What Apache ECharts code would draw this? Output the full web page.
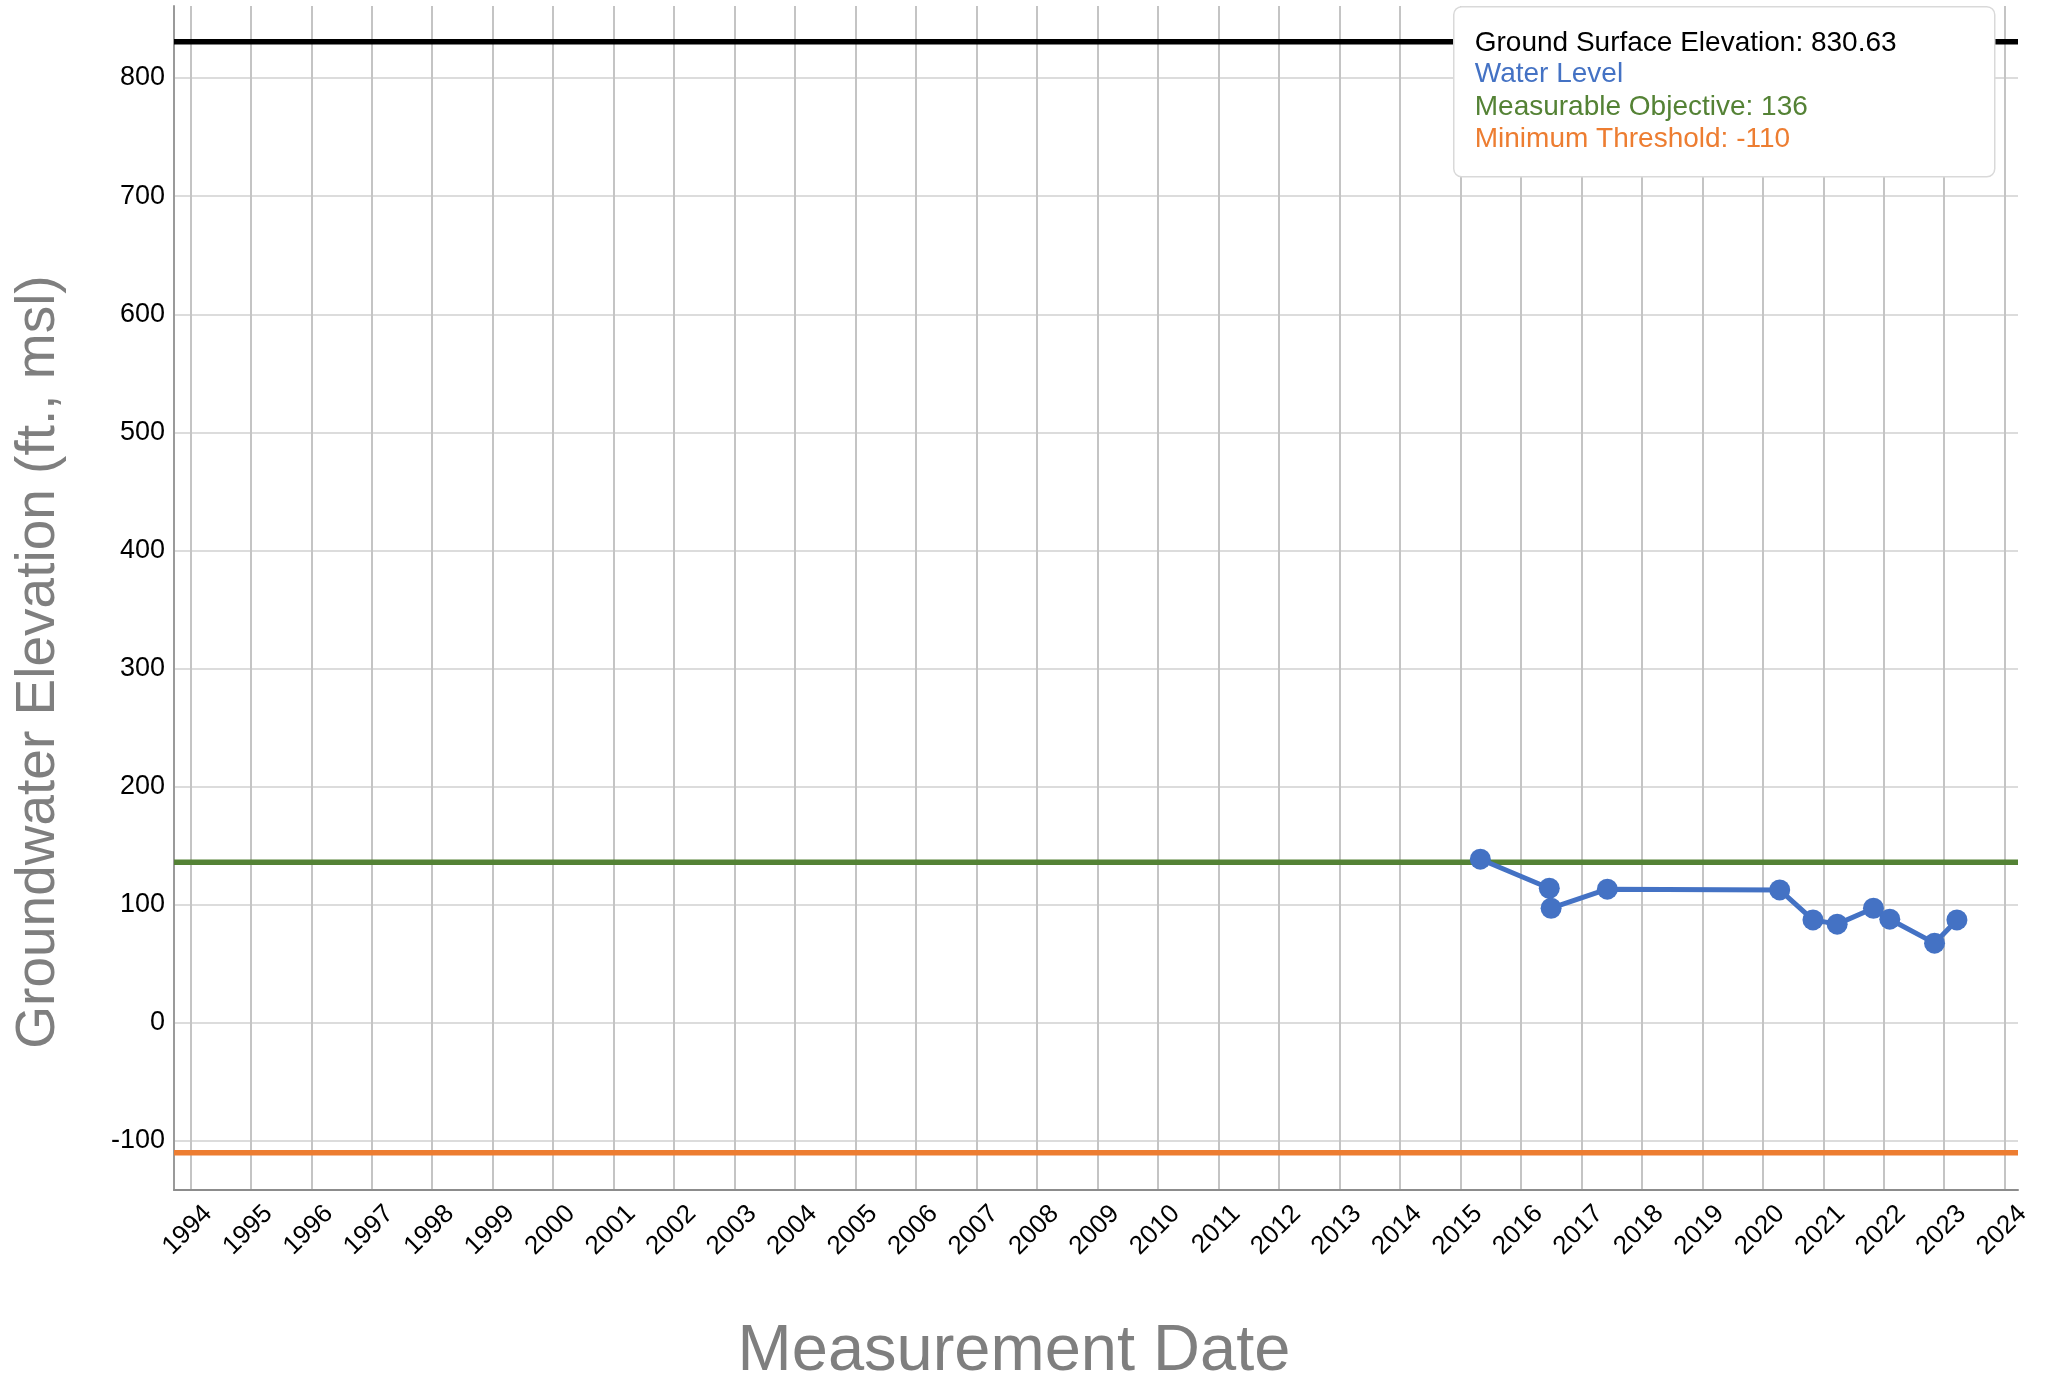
<!DOCTYPE html>
<html><head><meta charset="utf-8">
<script src="https://cdn.jsdelivr.net/npm/echarts@6/dist/echarts.min.js"></script>
<style>html,body{margin:0;padding:0;background:#fff}#c{width:2053px;height:1380px}</style>
</head><body><div id="c"></div>
<script>
// ---- data ----
const waterYears  = [2015.33, 2016.47, 2016.50, 2017.43, 2020.28, 2020.83, 2021.23, 2021.83, 2022.10, 2022.84, 2023.21];
const waterLevels = [138.6,   114.0,   97.1,    113.2,   112.6,   87.2,    83.6,    97.1,    87.8,    67.5,    87.2];
const groundSurfaceElevation = 830.63;
const measurableObjective = 136;
const minimumThreshold = -110;
const xRange = [1993.73, 2024.22];
const yRange = [-141.5, 861];
const xTitle = 'Measurement Date';
const yTitle = 'Groundwater Elevation (ft., msl)';
const legendLabels = [
  'Ground Surface Elevation: ' + groundSurfaceElevation,
  'Water Level',
  'Measurable Objective: ' + measurableObjective,
  'Minimum Threshold: ' + minimumThreshold
];
const COLORS = {ground:'#000000', water:'#4472C4', objective:'#548235', threshold:'#ED7D31'};
const FONT = '"Liberation Sans", Arial, sans-serif';

const chart = echarts.init(document.getElementById('c'), null, {renderer:'canvas'});

function hline(name, v, color){
  return {name, type:'line', data:[[xRange[0], v], [xRange[1], v]], symbol:'none',
    lineStyle:{color, width:5.5}, z:2, silent:true};
}

const legendColors = [COLORS.ground, COLORS.water, COLORS.objective, COLORS.threshold];
const legendRows = [36.7, 68, 100.7, 132.3];

const option = {
  animation:false,
  backgroundColor:'#fff',
  grid:{left:174, right:35, top:6, bottom:190, containLabel:false, outerBoundsMode:'none'},
  xAxis:{
    type:'value', min:xRange[0], max:xRange[1], splitNumber:30,
    axisLine:{show:true, onZero:false, lineStyle:{color:'#8c8c8c', width:2}},
    axisTick:{show:false},
    axisLabel:{rotate:45, fontSize:26, color:'#000', fontFamily:FONT, margin:2,
      verticalAlign:'top', padding:[12,0,0,0], showMinLabel:false, showMaxLabel:false,
      formatter: v => String(Math.round(v))},
    splitLine:{show:true, showMinLine:false, showMaxLine:false, lineStyle:{color:'#c4c4c4', width:2}},
    name:xTitle, nameLocation:'middle', nameGap:130, nameMoveOverlap:false,
    nameTextStyle:{fontSize:65, color:'#7f7f7f', fontFamily:FONT, padding:[0,164,0,0]}
  },
  yAxis:{
    type:'value', min:yRange[0], max:yRange[1], splitNumber:10,
    axisLine:{show:true, onZero:false, lineStyle:{color:'#9a9a9a', width:2}},
    axisTick:{show:false},
    axisLabel:{fontSize:27, color:'#000', fontFamily:FONT, margin:9, showMinLabel:false, showMaxLabel:false},
    splitLine:{show:true, showMinLine:false, showMaxLine:false, lineStyle:{color:'#dcdcdc', width:2}},
    name:yTitle, nameLocation:'middle', nameGap:108, nameMoveOverlap:false,
    nameTextStyle:{fontSize:55, color:'#7f7f7f', fontFamily:FONT, padding:[0,128,0,0]}
  },
  series:[
    hline('Ground Surface Elevation', groundSurfaceElevation, COLORS.ground),
    hline('Measurable Objective', measurableObjective, COLORS.objective),
    hline('Minimum Threshold', minimumThreshold, COLORS.threshold),
    {name:'Water Level', type:'line', data: waterYears.map((x,i)=>[x, waterLevels[i]]),
      symbol:'circle', symbolSize:21, showAllSymbol:true,
      lineStyle:{color:COLORS.water, width:5}, itemStyle:{color:COLORS.water}, z:5}
  ],
  graphic:[{
    type:'group', left:1453, top:6, z:100, zlevel:1,
    children:[
      {type:'rect', z:100, zlevel:1, shape:{x:0, y:0, width:541, height:170, r:8},
        style:{fill:'#fff', stroke:'#d9d9d9', lineWidth:1.5}},
      ...legendLabels.map((t,i)=>({type:'text', z:101, zlevel:1, x:21, y:legendRows[i],
        style:{text:t, fill:legendColors[i], fontSize:28, fontFamily:FONT, verticalAlign:'middle', align:'left'}}))
    ]
  }]
};
chart.setOption(option);
</script></body></html>
